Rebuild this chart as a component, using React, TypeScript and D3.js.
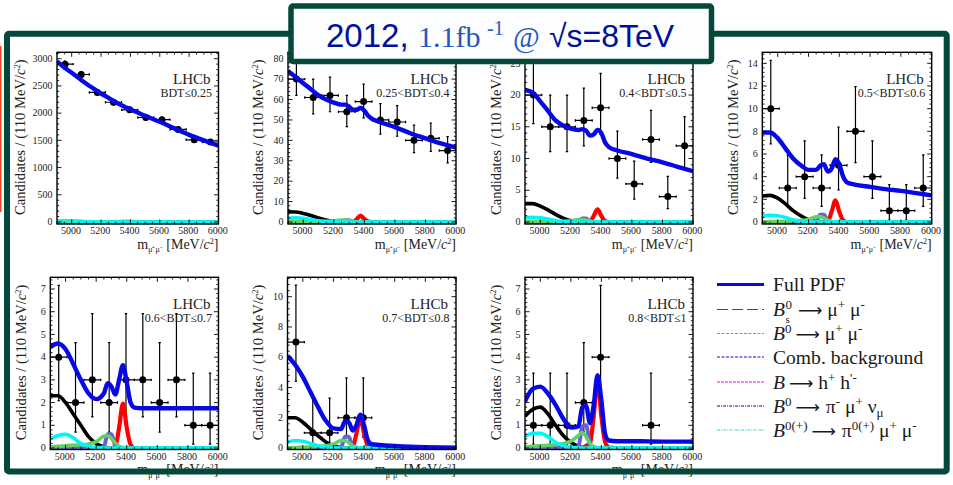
import React, { useMemo } from "react";
import * as d3 from "d3";

// ---- data ----
const massGrid = [4900,4950,5000,5050,5100,5150,5200,5250,5275,5300,5325,5350,5375,5400,5425,5450,5500,5600,5700,5800,5900,6000];
const binCentres = [4955,5065,5175,5285,5395,5505,5615,5725,5835,5945];
const binHalfWidth = 55;

const p1Counts = [2900,2710,2380,2200,2060,1920,1880,1700,1510,1470];
const p1Low = [2846,2658,2331,2153,2015,1876,1837,1659,1471,1432];
const p1High = [2954,2762,2429,2247,2105,1964,1923,1741,1549,1508];
const p1Full = [2950,2840,2740,2640,2540,2450,2360,2280,2240,2200,2165,2130,2100,2070,2040,2010,1950,1840,1720,1600,1500,1400];
const p1Comb = [8,8,6,4,2,1];
const p1Peak = [22,24,22,16,8,3,1];
const p1Green = [1,1,1,1,1,1,2,3,3,2,1];
const p1Purple = [0,0,0,0,0,0,0,0,1,1];
const p1Red = [0,0,0,0,0,0,0,0,0,0,0,1,2,1];

const p2Counts = [70,61,62,54,59,50,49,40,41,35];
const p2Low = [62,53,54,46.7,51,43,42,34,34.6,29];
const p2High = [79,70,71,62,67.5,58,57,47.5,48.5,41.8];
const p2Full = [74,71,68,65,62,60,58.5,57.5,57.5,56.5,55,55,56,54.5,52,50.5,49,46.5,43.5,41,38.5,36.5];
const p2Comb = [5,4.9,4.2,3.2,2,1,.4,.1];
const p2Peak = [1.8,2,1.8,1.2,.6,.2,.05];
const p2Green = [.1,.1,.15,.2,.25,.4,.6,.9,.9,.6,.3,.1];
const p2Purple = [0,0,0,0,0,0,0,.1,.9,.9,.15];
const p2Red = [0,0,0,0,0,0,0,0,0,0,.1,1.4,3.1,1.4,.2];

const p3Counts = [20,15,15,16,18,10,6,13,4,12];
const p3Low = [15.5,11.1,11.1,12,13.8,6.9,3.6,9.4,2.1,8.5];
const p3High = [26,20,20,21.1,23.4,14.3,9.6,17.6,7.2,16.6];
const p3Full = [20.8,20.4,19,17.5,16,15.2,14.7,14.5,14.6,14.4,13.6,13.8,14.5,14,12.5,11.8,11.3,10.7,10,9.4,8.7,8];
const p3Comb = [2.9,2.9,2.5,1.9,1.2,.6,.2,.05];
const p3Peak = [.65,.75,.65,.45,.2,.06];
const p3Green = [.02,.03,.05,.06,.08,.12,.2,.38,.4,.3,.14,.05];
const p3Purple = [0,0,0,0,0,0,0,.03,.55,.55,.08];
const p3Red = [0,0,0,0,0,0,0,0,0,0,.05,.95,2,.95,.15];

const p4Counts = [10,3,4,3,5,8,4,1,1,3];
const p4Low = [6.89,1.37,2.09,1.37,2.84,5.23,2.09,.17,.17,1.37];
const p4High = [14.27,5.92,7.16,5.92,8.38,11.95,7.16,3.3,3.3,5.92];
const p4Full = [7.9,7.9,7.4,6.5,5.6,5,4.6,4.6,4.95,5.1,4.45,4.7,5.55,5.1,4,3.5,3.3,3.1,2.9,2.75,2.55,2.35];
const p4Comb = [2.3,2.35,2.1,1.6,1,.55,.2,.05];
const p4Peak = [.55,.6,.55,.4,.2,.05];
const p4Green = [.02,.03,.05,.07,.1,.14,.22,.45,.47,.35,.16,.05];
const p4Purple = [0,0,0,0,0,0,0,.03,.65,.65,.1];
const p4Red = [0,0,0,0,0,0,0,0,0,0,.05,.9,1.9,.9,.15];

const p5Counts = [4,2,3,2,3,3,2,3,1,1];
const p5Low = [2.09,.7,1.37,.7,1.37,1.37,.7,1.37,.17,.17];
const p5High = [7.16,4.64,5.92,4.64,5.92,5.92,4.64,5.92,3.3,3.3];
const p5Full = [4.45,4.6,4.35,3.7,3,2.4,2.15,2.4,2.85,2.7,2.35,3,3.65,2.9,2,1.78,1.75,1.75,1.75,1.75,1.75,1.75];
const p5Comb = [2.3,2.3,2,1.5,1,.5,.2,.05];
const p5Peak = [.4,.55,.6,.45,.2,.08,.02];
const p5Green = [.05,.07,.1,.12,.14,.18,.28,.52,.55,.42,.22,.08,.02];
const p5Purple = [0,0,0,0,0,0,0,.05,.6,.6,.1];
const p5Red = [0,0,0,0,0,0,0,0,0,0,.05,.9,1.95,.9,.15];

const p6Counts = [7,1,1,2,2];
const p6Low = [4.42,.17,.17,.7,.7];
const p6High = [10.77,3.3,3.3,4.64,4.64];
const p6Full = [6.1,5.5,4.7,3.7,2.7,1.8,1.3,1.25,1.75,1.7,1.15,1.5,2.2,1.5,.5,.25,.2,.13,.08,.05,.03,.02];
const p6Comb = [2,2,1.7,1.25,.8,.4,.15,.03];
const p6Peak = [.4,.5,.45,.3,.15,.05];
const p6Green = [.02,.03,.05,.07,.1,.14,.25,.5,.5,.35,.15,.05];
const p6Purple = [0,0,0,0,0,0,0,.05,.75,.75,.1];
const p6Red = [0,0,0,0,0,0,0,0,0,0,.05,.95,2,.95,.15];

const p7Centres = [4955,5065,5175,5285,5395,5725];
const p7Counts = [1,1,1,2,4,1];
const p7Low = [.17,.17,.17,.7,2.09,.17];
const p7High = [3.3,3.3,3.3,4.64,7.16,3.3];
const p7Full = [2.05,2.6,2.7,2.4,1.9,1.3,.9,.95,1.8,1.85,1.1,1.9,3.2,2.1,.6,.33,.3,.3,.29,.28,.28,.28];
const p7Comb = [1.4,1.7,1.8,1.5,1,.55,.25,.07,.02];
const p7Peak = [.5,.65,.65,.5,.25,.1,.02];
const p7Green = [.05,.08,.1,.12,.15,.2,.3,.55,.68,.5,.2,.06,.01];
const p7Purple = [0,0,0,0,0,0,0,.05,.95,1,.2];
const p7Red = [0,0,0,0,0,0,0,0,0,.1,.2,1.4,3,1.4,.25,.02];

const p1Label = "BDT≤0.25", p2Label = "0.25<BDT≤0.4", p3Label = "0.4<BDT≤0.5", p4Label = "0.5<BDT≤0.6";
const p5Label = "0.6<BDT≤0.7", p6Label = "0.7<BDT≤0.8", p7Label = "0.8<BDT≤1";

// ---- layout ----
const C = { blue: "#0808e4", black: "#000", red: "#ff0000", cyan: "#00f5f5", green: "#63d063", purple: "#6464cc", frame: "#03483a" };
const SERIF = "'Liberation Serif','Times New Roman',serif";
const SANS = "'Liberation Sans',Arial,sans-serif";

const panels = [
  { label: p1Label, left: 57, right: 218.5, top: 52.3, y0: 222, bottom: 224, yRef: 3000, yRefPx: 58.7, major: 500, minor: 100, ylab: 20, x: binCentres, n: p1Counts, lo: p1Low, hi: p1High, full: p1Full, comb: p1Comb, peak: p1Peak, green: p1Green, purple: p1Purple, red: p1Red },
  { label: p2Label, left: 288, right: 456, top: 52.3, y0: 222, bottom: 224, yRef: 80, yRefPx: 58.7, major: 10, minor: 2, ylab: 258, x: binCentres, n: p2Counts, lo: p2Low, hi: p2High, full: p2Full, comb: p2Comb, peak: p2Peak, green: p2Green, purple: p2Purple, red: p2Red },
  { label: p3Label, left: 525, right: 693, top: 52.3, y0: 222, bottom: 224, yRef: 25, yRefPx: 63.3, major: 5, minor: 1, ylab: 496, x: binCentres, n: p3Counts, lo: p3Low, hi: p3High, full: p3Full, comb: p3Comb, peak: p3Peak, green: p3Green, purple: p3Purple, red: p3Red },
  { label: p4Label, left: 762.3, right: 931.7, top: 52.3, y0: 222, bottom: 224, yRef: 14, yRefPx: 63.3, major: 2, minor: 0.4, ylab: 733, x: binCentres, n: p4Counts, lo: p4Low, hi: p4High, full: p4Full, comb: p4Comb, peak: p4Peak, green: p4Green, purple: p4Purple, red: p4Red },
  { label: p5Label, left: 50.3, right: 218.5, top: 277.3, y0: 448, bottom: 449.5, yRef: 7, yRefPx: 289, major: 1, minor: 0.2, ylab: 20.5, x: binCentres, n: p5Counts, lo: p5Low, hi: p5High, full: p5Full, comb: p5Comb, peak: p5Peak, green: p5Green, purple: p5Purple, red: p5Red },
  { label: p6Label, left: 287.5, right: 456, top: 277.3, y0: 448, bottom: 449.5, yRef: 10, yRefPx: 296.7, major: 2, minor: 0.4, ylab: 258, x: binCentres.slice(0, 5), n: p6Counts, lo: p6Low, hi: p6High, full: p6Full, comb: p6Comb, peak: p6Peak, green: p6Green, purple: p6Purple, red: p6Red },
  { label: p7Label, left: 525, right: 693, top: 277.3, y0: 448, bottom: 449.5, yRef: 7, yRefPx: 289, major: 1, minor: 0.2, ylab: 496, x: p7Centres, n: p7Counts, lo: p7Low, hi: p7High, full: p7Full, comb: p7Comb, peak: p7Peak, green: p7Green, purple: p7Purple, red: p7Red },
];

const xMajor = d3.range(5000, 6001, 200);
const xMinor = d3.range(4900, 6001, 50);

function Panel({ p, idx }: { p: (typeof panels)[number]; idx: number }) {
  const xs = useMemo(() => d3.scaleLinear().domain([4900, 6000]).range([p.left, p.right]), [p]);
  const ys = useMemo(() => d3.scaleLinear().domain([0, p.yRef]).range([p.y0, p.yRefPx]), [p]);
  const line = d3.line<number>()
    .x((_, i) => xs(massGrid[i]))
    .curve(d3.curveMonotoneX);
  const path = (arr: number[]) =>
    line.y((_, i) => ys(arr[i] ?? 0))(massGrid as any) as string;
  const maxVal = ys.invert(p.top);
  const yMajor = d3.range(0, maxVal + 1e-6, p.major);
  const yMinor = d3.range(0, maxVal + 1e-6, p.minor);
  const clip = `clip${idx}`;
  const h = p.bottom - p.top;
  const midY = (p.top + p.bottom) / 2 - 1;
  return (
    <g>
      <clipPath id={clip}><rect x={p.left} y={p.top} width={p.right - p.left} height={h} /></clipPath>
      {/* data points */}
      <g clipPath={`url(#${clip})`} stroke="#000" strokeWidth={1.2}>
        {p.x.map((c, i) => (
          <g key={c}>
            <line x1={xs(c - binHalfWidth)} x2={xs(c + binHalfWidth)} y1={ys(p.n[i])} y2={ys(p.n[i])} />
            <line x1={xs(c)} x2={xs(c)} y1={ys(p.lo[i])} y2={ys(p.hi[i])} />
            <line x1={xs(c) - 1.2} x2={xs(c) + 1.2} y1={ys(p.lo[i])} y2={ys(p.lo[i])} />
            <line x1={xs(c) - 1.2} x2={xs(c) + 1.2} y1={ys(p.hi[i])} y2={ys(p.hi[i])} />
            <line x1={xs(c - binHalfWidth)} x2={xs(c - binHalfWidth)} y1={ys(p.n[i]) - 1.2} y2={ys(p.n[i]) + 1.2} />
            <line x1={xs(c + binHalfWidth)} x2={xs(c + binHalfWidth)} y1={ys(p.n[i]) - 1.2} y2={ys(p.n[i]) + 1.2} />
            <circle cx={xs(c)} cy={ys(p.n[i])} r={3.5} fill="#000" stroke="none" />
          </g>
        ))}
      </g>
      {/* PDF components */}
      <g clipPath={`url(#${clip})`} fill="none" strokeLinejoin="round">
        <path d={path(p.comb)} stroke={C.black} strokeWidth={3.6} />
        <path d={path(p.red)} stroke={C.red} strokeWidth={4.2} />
        <path d={path(p.purple)} stroke={C.purple} strokeWidth={4} />
        <path d={path(p.green)} stroke={C.green} strokeWidth={3.6} />
        <path d={path(p.peak)} stroke={C.cyan} strokeWidth={3.6} />
        <path d={path(p.full)} stroke={C.blue} strokeWidth={4.4} />
      </g>
      {/* frame and ticks */}
      <rect x={p.left} y={p.top} width={p.right - p.left} height={h} fill="none" stroke="#000" strokeWidth={1.4} />
      <g stroke="#000" strokeWidth={0.9}>
        {xMinor.map((v) => {
          const len = xMajor.includes(v) ? 4.5 : 2.2;
          return (
            <g key={v}>
              <line x1={xs(v)} x2={xs(v)} y1={p.bottom} y2={p.bottom - len} />
              <line x1={xs(v)} x2={xs(v)} y1={p.top} y2={p.top + len} />
            </g>
          );
        })}
        {yMinor.map((v, i) => {
          const len = i % Math.round(p.major / p.minor) === 0 ? 4.5 : 2.2;
          return (
            <g key={v}>
              <line x1={p.left} x2={p.left + len} y1={ys(v)} y2={ys(v)} />
              <line x1={p.right} x2={p.right - len} y1={ys(v)} y2={ys(v)} />
            </g>
          );
        })}
      </g>
      {/* tick labels */}
      <g fontFamily={SERIF} fontSize={10} fill="#222">
        {xMajor.map((v) => (
          <text key={v} x={xs(v) - 0.8} y={p.bottom + 10} textAnchor="middle">{v}</text>
        ))}
        {yMajor.map((v) => (
          <text key={v} x={p.left - 4.5} y={ys(v) + 3.2} textAnchor="end">{v}</text>
        ))}
      </g>
      {/* axis titles */}
      <text
        transform={`translate(${p.ylab + 5},${midY}) rotate(-90)`}
        textAnchor="middle" fontFamily={SERIF} fontSize={14.6} fill="#222"
      >
        Candidates / (110 MeV/<tspan fontStyle="italic">c</tspan><tspan fontSize={8.5} dy={-5}>2</tspan><tspan dy={5}>)</tspan>
      </text>
      <text x={p.right} y={p.bottom + 24.5} textAnchor="end" fontFamily={SERIF} fontSize={14} fill="#222">
        m<tspan fontSize={8} dy={3.5}>μ⁺μ⁻</tspan><tspan dy={-3.5}> [MeV/</tspan><tspan fontStyle="italic">c</tspan><tspan fontSize={8} dy={-4.5}>2</tspan><tspan dy={4.5}>]</tspan>
      </text>
      {/* annotations */}
      <text x={p.right - 8} y={p.top + 31.5} textAnchor="end" fontFamily={SERIF} fontSize={15} fill="#222">LHCb</text>
      <text x={p.right - 6.5} y={p.top + 45} textAnchor="end" fontFamily={SERIF} fontSize={12} fill="#222">{p.label}</text>
    </g>
  );
}

const legendLines = [
  { y: 284.5, color: C.blue, width: 3, dash: "" },
  { y: 309.5, color: "#ff0000", width: 1, dash: "11 4" },
  { y: 333.5, color: "#22e022", width: 1, dash: "3 1.5" },
  { y: 357, color: "#1010d0", width: 1, dash: "3 1.5" },
  { y: 382, color: "#ff00ff", width: 1, dash: "3 1" },
  { y: 406, color: "#0808a0", width: 1, dash: "3 1 1 1" },
  { y: 430, color: "#00f0f0", width: 1, dash: "3 1 1 1" },
];

function Legend() {
  const x = 773;
  const fs = 19.6;
  const B = <tspan fontStyle="italic">B</tspan>;
  const sup = (t: string) => <tspan fontSize={13} dy={-7}>{t}</tspan>;
  const base = (t: string) => <tspan dy={7}>{t}</tspan>;
  const arrow = (dy: number) => <tspan fontFamily="'DejaVu Sans'" fontSize={17} dx={4} dy={dy}>⟶</tspan>;
  return (
    <g>
      {legendLines.map((l) => (
        <line key={l.y} x1={717} x2={764} y1={l.y} y2={l.y} stroke={l.color} strokeWidth={l.width} strokeDasharray={l.dash || undefined} />
      ))}
      <g fontFamily={SERIF} fontSize={fs} fill="#1a1a1a">
        <text x={x} y={291}>Full PDF</text>
        <text x={x} y={316}>{B}</text>
        <text x={x + 12.5} y={308.5} fontSize={13}>0</text>
        <text x={x + 12.5} y={322.5} fontSize={11}>s</text>
        <text x={x + 21} y={316}>{arrow(0)}<tspan> μ</tspan>{sup("+")}{base(" μ")}{sup("-")}</text>
        <text x={x} y={340}>{B}{sup("0")}{arrow(7)}<tspan> μ</tspan>{sup("+")}{base(" μ")}{sup("-")}</text>
        <text x={x} y={363.5}>Comb. background</text>
        <text x={x} y={389}>{B}{arrow(0)}<tspan> h</tspan>{sup("+")}{base(" h")}{sup("'-")}</text>
        <text x={x} y={413}>{B}{sup("0")}{arrow(7)}<tspan dx={1}> π</tspan>{sup("-")}{base(" μ")}{sup("+")}{base(" ν")}<tspan fontSize={13} dy={4}>μ</tspan></text>
        <text x={x} y={437}>{B}{sup("0(+)")}{arrow(7)}<tspan dx={1}> π</tspan>{sup("0(+)")}{base(" μ")}{sup("+")}{base(" μ")}{sup("-")}</text>
      </g>
    </g>
  );
}

export default function App() {
  return (
    <svg width={953} height={485} viewBox="0 0 953 485" style={{ position: "absolute", left: 0, top: 0, display: "block", background: "#fff" }}>
      <rect x={0} y={46} width={1.5} height={166} fill="#f04a20" />
      {panels.map((p, i) => <Panel key={p.label} p={p} idx={i} />)}
      <Legend />
      <rect x={7} y={33.8} width={939.7} height={437.7} rx={2} fill="none" stroke={C.frame} strokeWidth={6} />
      <rect x={291} y={6} width={420.5} height={55.5} rx={2} fill="#fbfdfe" stroke={C.frame} strokeWidth={5.5} />
      <text y={46.5} fontFamily={SANS} fontSize={33} fill="#00109a">
        <tspan x={326}>2012,</tspan>
        <tspan x={418} fontFamily={SERIF} fontSize={30} fill="#2a55bd">1.1fb</tspan>
        <tspan x={487} fontFamily={SERIF} fontSize={20} fill="#2a55bd" dy={-12}>-1</tspan>
        <tspan x={513} fontFamily={SERIF} fontSize={29} fill="#2a55bd" dy={12}>@</tspan>
        <tspan x={549} fontSize={32}>√s=8TeV</tspan>
      </text>
    </svg>
  );
}
